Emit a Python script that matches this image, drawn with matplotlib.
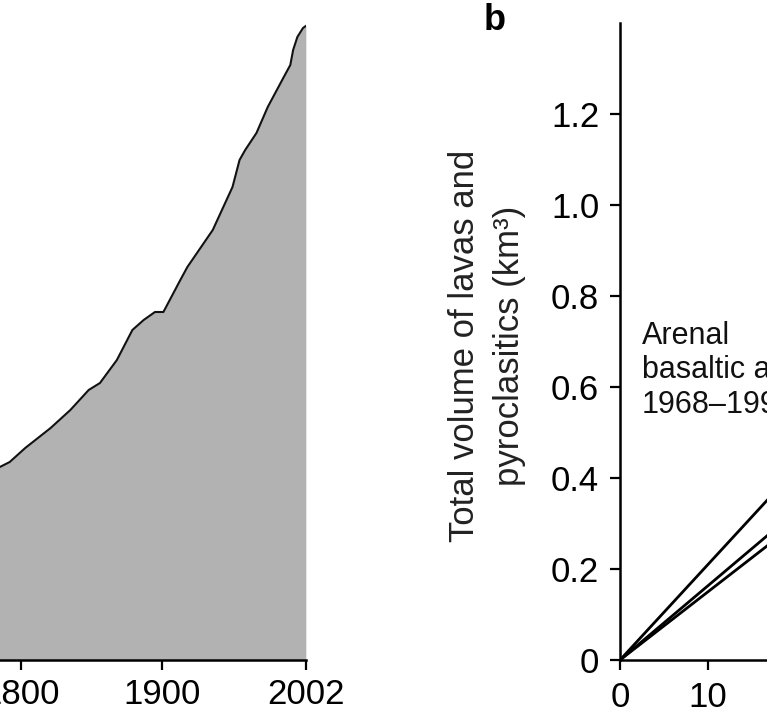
import matplotlib.pyplot as plt

plt.rcParams['font.family'] = ['Liberation Sans', 'DejaVu Sans']

W, H = 767, 720

# panel a: cumulative curve (arbitrary units)
years = [1775, 1785, 1792, 1803, 1821, 1835, 1848, 1856, 1868, 1879, 1887,
         1895, 1901, 1913, 1918, 1936, 1950, 1955, 1959, 1967, 1975, 1986,
         1991, 1993, 1996, 2000, 2002]
volume = [1.88, 1.93, 1.98, 2.12, 2.32, 2.50, 2.70, 2.77, 3.00, 3.30, 3.40,
          3.48, 3.48, 3.80, 3.93, 4.30, 4.73, 5.00, 5.10, 5.27, 5.53, 5.82,
          5.95, 6.10, 6.23, 6.32, 6.34]
year_ticks = [1800, 1900, 2002]

# panel b: Arenal lines (time in years vs km3)
t_b = [0, 30]
arenal_1 = [0, 0.63]
arenal_2 = [0, 0.49]
arenal_3 = [0, 0.45]
b_yticks = [0, 0.2, 0.4, 0.6, 0.8, 1.0, 1.2]
b_ylabels = ['0', '0.2', '0.4', '0.6', '0.8', '1.0', '1.2']
b_xticks = [0, 10]

fig = plt.figure(figsize=(W / 100, H / 100), dpi=100)

def px_box(x0, y0, x1, y1):
    # pixel box (top-left origin) -> figure fraction rect
    return [x0 / W, 1 - y1 / H, (x1 - x0) / W, (y1 - y0) / H]

lw_spine = 1.8
tick_kw = dict(direction='out', length=7, width=1.6, labelsize=25, pad=6)

# ---- panel a
ax1 = fig.add_axes(px_box(21 - 50 * 1.41, 0, 21 + 202 * 1.41, 660))
ax1.fill_between(years, volume, 0, color='#b2b2b2', lw=0)
ax1.plot(years, volume, color='#111111', lw=1.5)
ax1.set_xlim(1750, 2002)
ax1.set_ylim(0, 6.6)
ax1.set_xticks(year_ticks)
ax1.set_yticks([])
for s in ['left', 'top', 'right']:
    ax1.spines[s].set_visible(False)
ax1.spines['bottom'].set_linewidth(lw_spine)
ax1.tick_params(axis='x', **tick_kw)

# ---- panel b
ax2 = fig.add_axes(px_box(620, 23, 620 + 30 * 8.8, 660))
for yv in [arenal_1, arenal_2, arenal_3]:
    ax2.plot(t_b, yv, color='black', lw=2.0, solid_capstyle='butt')
ax2.set_xlim(0, 30)
ax2.set_ylim(0, 1.4)
ax2.set_xticks(b_xticks)
ax2.set_yticks(b_yticks)
ax2.set_yticklabels(b_ylabels)
for s in ['top', 'right']:
    ax2.spines[s].set_visible(False)
for s in ['left', 'bottom']:
    ax2.spines[s].set_linewidth(lw_spine)
ax2.tick_params(axis='both', **tick_kw)
ax2.tick_params(axis='x', pad=8)
ax2.tick_params(axis='y', pad=8)

fig.text(642 / W, 1 - 413 / H, 'Arenal\nbasaltic andesite\n1968\u20131998',
         fontsize=22, ha='left', va='baseline', linespacing=1.2, color='#111111')

fig.text(495 / W, 1 - 20 / H, 'b', fontsize=26, fontweight='bold', ha='center', va='center')
fig.text(487 / W, 1 - 346 / H, 'Total volume of lavas and\npyroclasitics (km\u00b3)',
         rotation=90, fontsize=25, ha='center', va='center', linespacing=1.45,
         multialignment='center', color='#222222')

fig.savefig('out.png', dpi=100)
